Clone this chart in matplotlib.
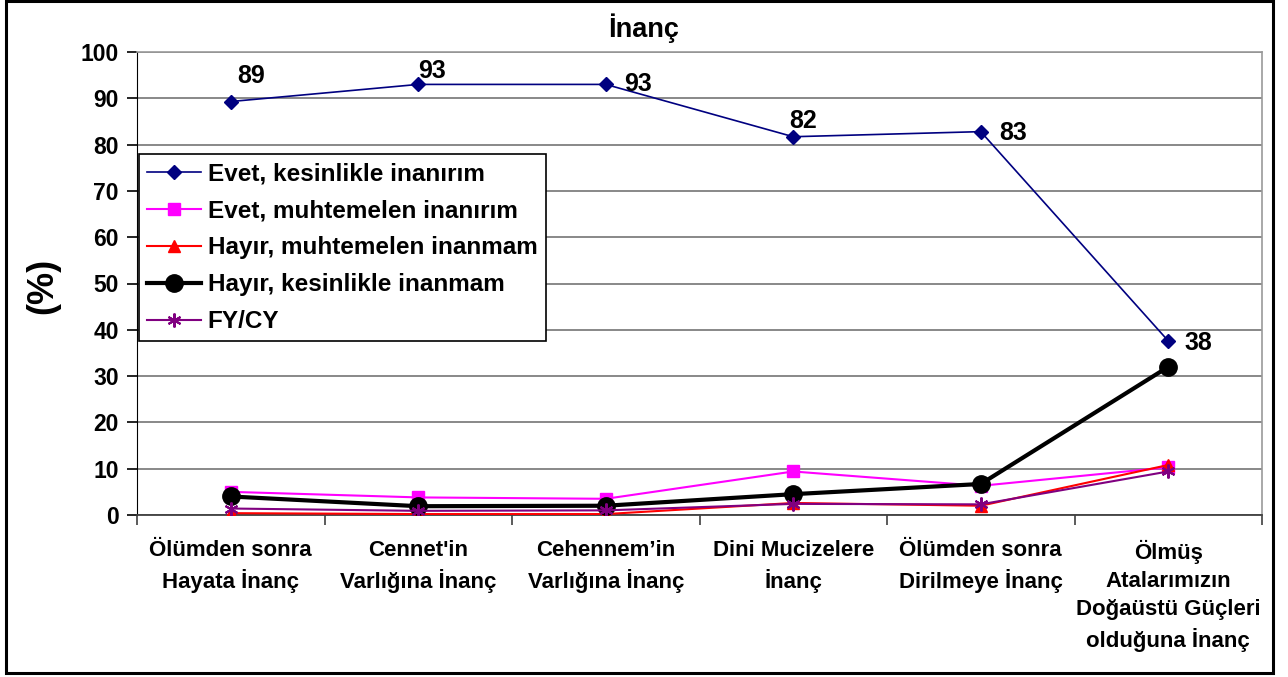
import matplotlib
matplotlib.use("Agg")
import matplotlib.pyplot as plt
from matplotlib.patches import Rectangle

categories = [
    "Ölümden sonra\nHayata İnanç",
    "Cennet'in\nVarlığına İnanç",
    "Cehennem’in\nVarlığına İnanç",
    "Dini Mucizelere\nİnanç",
    "Ölümden sonra\nDirilmeye İnanç",
    "Ölmüş\nAtalarımızın\nDoğaüstü Güçleri\nolduğuna İnanç",
]
evet_kesin = [89.3, 93.0, 93.0, 81.7, 82.8, 37.6]
evet_muht = [5.0, 3.8, 3.5, 9.4, 6.3, 10.3]
hayir_muht = [0.4, 0.2, 0.2, 2.6, 2.0, 10.8]
hayir_kesin = [4.0, 1.9, 2.0, 4.5, 6.7, 32.0]
fycy = [1.4, 0.9, 1.0, 2.4, 2.3, 9.4]
labels_top = ["89", "93", "93", "82", "83", "38"]
series_names = ["Evet, kesinlikle inanırım", "Evet, muhtemelen inanırım",
                "Hayır, muhtemelen inanmam", "Hayır, kesinlikle inanmam", "FY/CY"]
yticks = [0, 10, 20, 30, 40, 50, 60, 70, 80, 90, 100]

plt.rcParams['font.family'] = ['Liberation Sans', 'DejaVu Sans']
plt.rcParams['font.weight'] = 'bold'

fig = plt.figure(figsize=(12.88, 6.77), dpi=100)
ax = fig.add_axes([137/1288, 1-515/677, (1262-137)/1288, (515-52)/677])

x = list(range(len(categories)))
ax.plot(x, evet_kesin, color='#000080', lw=1.2, marker='D', ms=7, label=series_names[0], zorder=3)
ax.plot(x, evet_muht, color='#FF00FF', lw=1.5, marker='s', ms=8, label=series_names[1], zorder=3)
ax.plot(x, hayir_muht, color='#FF0000', lw=1.5, marker='^', ms=9, label=series_names[2], zorder=3)
ax.plot(x, hayir_kesin, color='black', lw=3, marker='o', ms=12.5, label=series_names[3], zorder=3)
ax.plot(x, fycy, color='#800080', lw=1.5, marker=(6, 2, 0), ms=10, mew=1.5, label=series_names[4], zorder=3)

# offsets in points (center of text, baseline)
offsets = [(14.5, 13.5), (10, 4.5), (23, -5), (7, 6.5), (23, -5.8), (22, -6.5)]
for xi, yi, t, off in zip(x, evet_kesin, labels_top, offsets):
    ax.annotate(t, (xi, yi), xytext=off, textcoords='offset points',
                fontsize=18, fontweight='bold', ha='center', va='baseline')

ax.set_xlim(-0.5, 5.5)
ax.set_ylim(0, 100)
ax.set_yticks(yticks)
ax.set_yticklabels([str(v) for v in yticks], fontsize=16.5, fontweight='bold')
ax.yaxis.grid(True, color='#7f7f7f', lw=1.3)
ax.set_axisbelow(True)
ax.set_xticks(x)
ax.set_xticklabels(categories, fontsize=16, fontweight='bold', linespacing=1.42)
ax.set_xticks([i + 0.5 for i in range(-1, 6)], minor=True)
ax.tick_params(axis='x', which='major', length=0, pad=18)
ax.tick_params(axis='x', which='minor', length=7, width=1.2, color='#404040')
ax.tick_params(axis='y', length=7, width=1.2, pad=6)
for s in ['top', 'right']:
    ax.spines[s].set_color('#999999')
    ax.spines[s].set_linewidth(1.2)
ax.spines['left'].set_color('black')
ax.spines['bottom'].set_color('#404040')
ax.spines['bottom'].set_linewidth(1.3)

fig.text(0.5, 1 - 37/677, "İnanç", fontsize=19.5, fontweight='bold', ha='center', va='baseline')
ax.set_ylabel("(%)", fontsize=26, fontweight='bold')
ax.yaxis.set_label_coords(-0.0684, 0.495)

leg = ax.legend(loc='upper left', bbox_to_anchor=(0.0018, 1 - (154 - 52)/463), borderaxespad=0,
                fontsize=17.5, frameon=True, fancybox=False, edgecolor='black', framealpha=1,
                handlelength=2.2, borderpad=0.33, labelspacing=0.58, handletextpad=0.3)
leg.get_frame().set_linewidth(1.2)

fig.patches.append(Rectangle((6/1288, 4/677), 1267/1288, 672/677, transform=fig.transFigure,
                             fill=False, edgecolor='black', lw=2.2))

fig.savefig("out.png", dpi=100)
